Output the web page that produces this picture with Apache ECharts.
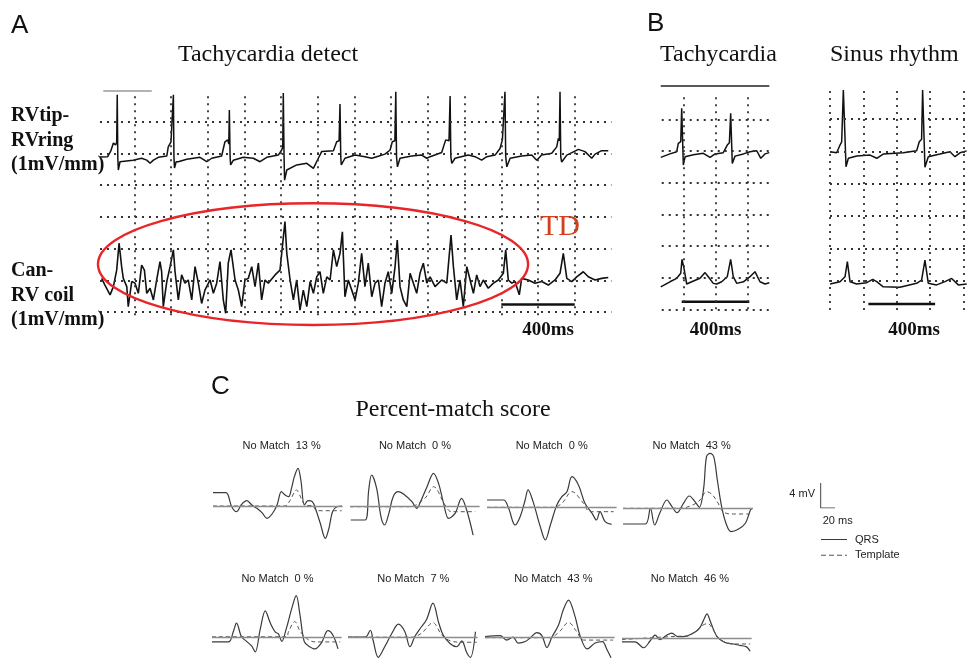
<!DOCTYPE html>
<html><head><meta charset="utf-8">
<script src="https://cdn.jsdelivr.net/npm/echarts@6/dist/echarts.min.js"></script>
<style>html,body{margin:0;padding:0;background:#fff}#c{width:971px;height:671px}</style>
</head><body><div id="c"></div>
<script>
// ---------------- DATA ----------------
// Panel A: grid ticks (ms, mV grid units)
const aGridMs = [200,400,600,800,1000,1200,1400,1600,1800,2000,2200,2400,2600];
const aGridMv = [0,1,2,3,4,5,6];
// Panel A: RVtip-RVring trace [ms, mV]
const rvTipRing = [[13,4.89],[55,4.9],[72,5.08],[86,5.33],[98,5.27],[104,5.35],[107,6.85],[110,4.9],[113,4.48],[122,4.74],[193,4.79],[240,4.85],[268,4.79],[286,4.69],[304,4.79],[331,4.88],[377,4.92],
[385,5.21],[400,5.37],[410,5.35],[413,6.85],[416,4.9],[419,4.54],[428,4.74],[440,4.74],[486,4.82],[558,4.88],[595,4.74],[622,4.85],[676,4.92],
[694,5.37],[709,5.43],[715,5.3],[718,6.37],[722,4.9],[725,4.64],[740,4.79],[794,4.88],[849,4.85],[885,4.74],[922,4.88],[985,4.95],
[1003,5.11],[1009,5.2],[1012,6.91],[1016,4.9],[1019,4.16],[1031,4.48],[1085,4.64],[1140,4.69],[1176,4.53],[1203,4.85],[1221,5.06],[1285,5.09],
[1303,5.37],[1316,5.4],[1321,6.56],[1325,4.9],[1328,4.64],[1348,4.85],[1403,4.95],[1457,4.9],[1494,4.85],[1521,4.9],[1566,4.98],[1594,5.11],
[1606,5.37],[1620,5.4],[1625,6.95],[1629,4.9],[1634,4.58],[1648,4.85],[1712,4.92],[1766,4.95],[1794,4.85],[1812,4.9],[1875,5.03],
[1897,5.43],[1915,5.4],[1921,6.81],[1925,4.9],[1930,4.69],[1948,4.85],[2020,4.95],[2057,4.9],[2093,4.79],[2121,4.9],[2166,4.95],[2193,5.16],
[2206,5.43],[2215,5.4],[2220,6.95],[2224,4.9],[2230,4.58],[2248,4.85],[2311,4.92],[2366,4.95],[2393,4.79],[2420,4.95],[2475,5.01],[2502,5.21],
[2511,5.48],[2516,5.4],[2520,6.95],[2524,4.9],[2529,4.73],[2557,4.95],[2620,5.13],[2656,5.06],[2693,4.85],[2711,4.98],[2747,5.09],[2783,5.09]];
// Panel A: Can-RV coil trace [ms, mV]
const canRvCoil = [[22,1.06],[40,0.85],[68,0.54],[86,0.80],[104,1.32],[117,2.17],[131,1.43],[140,1.06],[159,0.80],[167,0.17],[186,0.96],[204,0.91],[222,0.59],[240,1.48],[255,1.32],[268,0.59],[286,0.75],[304,0.38],[322,1.01],[340,1.59],[349,1.27],[358,0.17],[377,0.96],[395,1.43],[413,1.96],[422,1.27],[440,0.38],[458,1.17],[476,0.91],[494,1.01],[513,0.38],[531,1.43],[549,0.91],[567,0.27],[585,0.69],[613,1.01],[631,0.59],[649,0.91],[667,1.59],[685,0.38],[698,-0.04],[712,1.54],[727,1.96],[749,1.01],[767,0.69],[785,0.17],[803,1.01],[821,1.06],[840,1.43],[858,0.80],[876,1.54],[894,0.38],[912,1.01],[930,0.91],[967,1.17],[994,1.32],[1007,2.06],[1021,2.85],[1031,1.85],[1049,1.01],[1067,0.38],[1085,1.01],[1103,0.06],[1121,0.69],[1140,0.17],[1158,0.96],[1176,0.59],[1194,1.11],[1212,1.27],[1230,0.59],[1249,1.11],[1267,1.01],[1285,1.96],[1303,1.43],[1321,1.85],[1334,2.53],[1348,0.48],[1366,1.01],[1385,0.69],[1403,0.38],[1421,0.91],[1439,1.85],[1457,0.80],[1475,1.54],[1494,0.48],[1512,0.91],[1530,1.01],[1548,0.17],[1566,0.91],[1584,1.27],[1603,0.59],[1621,1.43],[1633,2.27],[1648,0.80],[1666,0.38],[1685,0.17],[1703,1.22],[1721,0.91],[1739,0.59],[1757,1.22],[1775,1.54],[1794,0.91],[1812,1.11],[1839,0.80],[1875,1.01],[1903,0.91],[1926,2.43],[1939,1.43],[1957,0.38],[1975,1.01],[1993,0.17],[2012,1.43],[2030,1.01],[2048,0.59],[2066,1.17],[2084,0.80],[2102,1.01],[2129,0.75],[2157,0.91],[2184,1.01],[2211,1.22],[2224,1.96],[2238,1.01],[2257,0.91],[2275,0.96],[2298,0.54],[2311,1.06],[2347,1.01],[2384,0.91],[2420,0.96],[2456,0.85],[2493,1.01],[2520,1.22],[2538,1.85],[2557,1.06],[2584,0.96],[2611,1.11],[2647,1.27],[2674,1.11],[2711,1.01],[2747,1.06],[2783,1.09]];
const scaleBarA = [[2200,0.24],[2600,0.24]];
const markA = [[31,6.97],[295,6.97]];           // short calibration stroke
const tdEllipse = {ms:1174, mv:1.51, halfMs:1172, halfMv:1.92};

// Panel B: tachycardia
const bTachyGridMs = [200,400,600];
const bTachyGridMv = [0,1,2,3,4,5,6];
const bTachyTop = [[60,4.80],[117,4.91],[159,4.98],[169,5.24],[184,5.30],[190,6.35],[200,4.56],[211,4.82],[262,4.88],[324,4.93],[366,4.80],[397,4.91],[448,4.95],[473,5.19],[486,5.26],[494,6.19],[504,4.61],[521,4.84],[573,4.91],[614,4.98],[656,5.01],[681,4.77],[707,4.91],[734,4.95]];
const bTachyBottom = [[60,0.71],[117,0.87],[159,0.98],[184,1.14],[192,1.58],[204,1.30],[221,0.80],[252,0.87],[304,0.98],[335,1.16],[355,1.03],[386,0.82],[407,0.80],[438,0.87],[473,1.03],[494,1.58],[510,1.03],[532,0.82],[573,0.87],[614,1.03],[645,1.19],[676,0.87],[707,0.80],[734,0.84]];
const bTachyTopLine = [[60,7.07],[734,7.07]];
const scaleBarTachy = [[190,0.24],[610,0.24]];
// Panel B: sinus rhythm
const bSinusGridMs = [0,200,400,600,800];
const bSinusGridMv = [1,2,3,4,5,6];
const bSinusTop = [[0,4.99],[40,4.96],[60,5.20],[70,5.30],[80,6.90],[96,4.53],[110,4.79],[160,4.86],[240,4.89],[280,4.79],[319,4.92],[439,4.96],[519,5.02],[535,5.30],[549,5.38],[555,6.90],[569,4.51],[589,4.84],[659,4.92],[719,4.99],[749,4.84],[779,4.96],[819,5.02]];
const bSinusBottom = [[0,0.90],[60,0.97],[90,1.12],[104,1.59],[120,0.97],[160,0.90],[220,0.94],[256,1.04],[280,0.97],[319,0.81],[419,0.80],[519,0.92],[549,1.02],[569,1.64],[589,0.92],[639,0.87],[689,0.97],[729,1.07],[769,0.87],[819,0.90]];
const scaleBarSinus = [[230,0.28],[630,0.28]];

// Panel C: percent-match scores and QRS / template morphologies [ms, mV]
const noMatchScores = [13,0,0,43,0,7,43,46];
const qrsBeats = [
 [[0,2.13],[18,2.13],[21,1.76],[26,-0.11],[33,-0.91],[39,0.16],[47,0.85],[54,0.16],[61,-0.37],[68,-1.07],[75,-1.97],[82,-1.28],[89,0.16],[95,2.29],[100,1.76],[105,1.49],[109,2.83],[113,4.69],[118,6.03],[122,4.16],[127,0.16],[132,0.85],[138,0.69],[143,-0.64],[149,-2.77],[156,-5.17],[161,-3.57],[166,-0.91],[172,-0.11],[179,0]],
 [[1,-2.13],[21,-2.13],[26,2.67],[30,5.07],[37,2.94],[43,-1.6],[48,-2.93],[54,-1.06],[60,1.6],[67,2.4],[76,1.87],[86,0.8],[93,-0.26],[97,0.54],[107,3.2],[116,5.34],[123,3.74],[130,0.54],[137,-1.86],[146,-1.06],[155,1.34],[162,-0.53],[171,-4.53]],
 [[0,1.17],[23,1.17],[30,-0.16],[39,-2.83],[46,-1.5],[53,1.17],[57,2.8],[64,0.9],[74,-3.1],[81,-5.23],[88,-2.83],[97,0.37],[104,1.7],[111,2.5],[118,4.9],[127,3.57],[136,0.64],[146,-0.96],[152,-2.03],[157,-0.7],[164,-2.3],[173,-2.72]],
 [[0,-2.51],[31,-2.51],[38,0],[44,-2.67],[51,-0.8],[61,1.33],[68,0.26],[75,-0.7],[84,0.8],[92,1.97],[100,1.06],[106,0.16],[112,3.2],[116,8.26],[121,8.8],[126,8.26],[131,4.53],[137,0.26],[143,-2.4],[150,-3.74],[160,-3.36],[170,-2.4],[177,-0.27],[180,0]],
 [[0,-0.9],[23,-0.9],[30,1.07],[34,2.4],[41,0],[48,-0.8],[55,-1.6],[60,-2.66],[67,1.34],[74,4.54],[81,2.4],[88,0.8],[92,0.54],[97,-0.8],[103,1.34],[111,5.07],[117,7.2],[122,4],[128,-0.8],[134,-1.6],[143,-2.13],[152,-1.06],[161,1.07],[168,0.27],[175,-2.13]],
 [[0,0],[24,0],[31,1.23],[35,-0.64],[42,-3.57],[51,-1.7],[61,0.7],[70,2.3],[79,0.96],[86,-1.7],[93,0.16],[100,1.5],[109,3.1],[118,6.03],[126,2.56],[132,0.43],[142,-1.17],[151,-1.7],[158,-0.64],[165,-2.77],[170,-3.57],[177,0.96]],
 [[0,0.21],[21,0.37],[30,-0.43],[39,0.11],[46,-0.96],[56,-0.69],[63,0],[72,0.91],[79,0.37],[86,-1.76],[93,0.11],[102,2.24],[109,5.12],[116,6.77],[125,3.84],[132,0.37],[142,-2.03],[153,-0.96],[163,-0.69],[169,-2.03],[175,-3.63]],
 [[0,-0.69],[18,-0.69],[30,-1.76],[39,-0.53],[46,0.53],[53,-0.27],[62,0.53],[69,0.91],[78,0.27],[90,0.37],[101,1.07],[108,1.87],[114,3.47],[118,4.43],[123,2.93],[132,0.27],[143,-0.8],[155,-1.07],[164,-1.33],[173,-1.6],[178,-2.4]]
];
const templateBeats = [
 [[0,0],[100,0],[107,0.9],[116,2.56],[121,1.6],[128,0.16],[139,0],[144,-0.75],[179,-0.75]],
 [[0,0],[83,0],[104,1.34],[116,3.2],[132,0.27],[141,-0.8],[174,-0.8]],
 [[0,0],[92,0],[104,0.64],[118,2.5],[134,0.64],[143,-0.7],[176,-0.7]],
 [[0,0],[79,0],[97,0.53],[107,1.33],[116,2.66],[123,2.29],[131,1.06],[139,-0.54],[151,-0.91],[177,-0.91]],
 [[0,0],[104,0],[106,0.8],[115,2.67],[122,1.07],[131,-0.26],[143,-0.9],[178,-0.9]],
 [[0,0],[89,0],[102,0.7],[118,2.56],[130,0.43],[142,-0.64],[160,-0.9],[179,-0.9]],
 [[0,0],[90,0],[104,1.17],[116,2.77],[127,1.17],[137,-0.43],[178,-0.43]],
 [[0,-0.27],[74,0.32],[90,0.37],[101,1.07],[111,2.24],[119,2.67],[127,1.44],[136,-0.27],[155,-1.07],[178,-1.07]]
];
const scaleBarC = [[20,0],[0,0],[0,4]];   // 20 ms x 4 mV
const legendNames = ['QRS','Template'];

// ---------------- LAYOUT / STYLE ----------------
const SERIF = '"Liberation Serif","Times New Roman",serif';
const SANS = '"Liberation Sans",Arial,sans-serif';
const DOT = {color:'#333', width:1.8, type:[2,5]};
const INK = '#111';
const QRS_COLOR = '#3a3a3a', TPL_COLOR = '#555';

function dottedGrid(xs, ys, xFrom, xTo, yFrom, yTo, extra) {
  const d = [];
  xs.forEach(x => d.push([{coord:[x,yFrom]},{coord:[x,yTo]}]));
  ys.forEach(y => d.push([{coord:[xFrom,y]},{coord:[xTo,y]}]));
  (extra||[]).forEach(e => d.push(e));
  return {silent:true, symbol:['none','none'], label:{show:false}, emphasis:{disabled:true},
          animation:false, lineStyle:DOT, data:d};
}
function seg(pts, style){ return [{coord:pts[0], lineStyle:style},{coord:pts[1]}]; }

const grids = [], xAxes = [], yAxes = [], series = [];
function addGrid(g, xr, yr){
  grids.push(g);
  const i = grids.length-1;
  xAxes.push({gridIndex:i, type:'value', min:xr[0], max:xr[1], show:false});
  yAxes.push({gridIndex:i, type:'value', min:yr[0], max:yr[1], show:false});
  return i;
}
function trace(i, data, style, extra){
  return Object.assign({type:'line', xAxisIndex:i, yAxisIndex:i, data:data, symbol:'none',
    silent:true, animation:false, lineStyle:style, itemStyle:{color:style.color}}, extra||{});
}

// Panel A
const gA = addGrid({left:97.6, top:90.1, width:513.8, height:225.07}, [0,2800], [-0.1,7]);
series.push(trace(gA, rvTipRing, {color:INK, width:1.5},
  {markLine: dottedGrid(aGridMs, aGridMv, 13, 2800, -0.1, 6.95,
     [seg(markA, {color:'#9a9a9a', width:1.5, type:'solid'})])}));
series.push(trace(gA, canRvCoil, {color:INK, width:1.6}));
series.push(trace(gA, scaleBarA, {color:INK, width:2.5}));

// Panel B tachy
const gT = addGrid({left:651.1, top:84.585, width:120, height:227.9}, [0,745], [-0.1,7.1]);
series.push(trace(gT, bTachyTop, {color:INK, width:1.5},
  {markLine: dottedGrid(bTachyGridMs, bTachyGridMv, 66, 734, 0, 6.85,
     [seg(bTachyTopLine, {color:'#222', width:1.6, type:'solid'})])}));
series.push(trace(gT, bTachyBottom, {color:INK, width:1.5}));
series.push(trace(gT, scaleBarTachy, {color:INK, width:2.5}));

// Panel B sinus
const gS = addGrid({left:830, top:86.9, width:141.07, height:226.1}, [0,845], [0,7]);
series.push(trace(gS, bSinusTop, {color:INK, width:1.5},
  {markLine: dottedGrid(bSinusGridMs, bSinusGridMv, 0, 830, 0.09, 6.9)}));
series.push(trace(gS, bSinusBottom, {color:INK, width:1.5}));
series.push(trace(gS, scaleBarSinus, {color:INK, width:2.5}));

// Panel C
const cLeft = [213,350,487,623,212,348,485,622];
const cBase = [506,506.7,507.3,508.3,641.7,642.7,644,645];
const cLabelX = [281.7,415,551.7,691.7,277.5,413.3,553.3,690];
for (let k=0;k<8;k++){
  const g = addGrid({left:cLeft[k], top:cBase[k]-56.25, width:129.6, height:93.75}, [0,180], [-6,9]);
  series.push(trace(g, qrsBeats[k], {color:QRS_COLOR, width:1.2}, {name:legendNames[0], smooth:0.35,
    markLine:{silent:true, symbol:['none','none'], label:{show:false}, animation:false,
      lineStyle:{color:'#8c8c8c', width:1.4, type:'solid'}, data:[{yAxis:0}]}}));
  series.push(trace(g, templateBeats[k], {color:TPL_COLOR, width:1, type:[4,3]}, {name:legendNames[1], smooth:0.35}));
}
const gC = addGrid({left:820.7, top:483, width:14.3, height:25}, [0,20], [0,4]);
series.push(trace(gC, scaleBarC, {color:'#444', width:1}));

// Texts
function txt(t, x, y, font, opts){
  return Object.assign({type:'text', x:x, y:y, silent:true, z:50,
    style:Object.assign({text:t, font:font, fill:INK, align:'left', verticalAlign:'middle'}, opts||{})});
}
const graphics = [
  txt('A', 11, 25.4, '26px '+SANS),
  txt('B', 647, 23.4, '26px '+SANS),
  txt('C', 211, 386.4, '26px '+SANS),
  txt('Tachycardia detect', 268, 55, '24px '+SERIF, {align:'center'}),
  txt('Tachycardia', 660, 55, '24px '+SERIF),
  txt('Sinus rhythm', 830, 55, '24px '+SERIF),
  txt('RVtip-', 11, 116.3, 'bold 20px '+SERIF),
  txt('RVring', 11, 141.3, 'bold 20px '+SERIF),
  txt('(1mV/mm)', 11, 165.3, 'bold 20px '+SERIF),
  txt('Can-', 11, 271.3, 'bold 20px '+SERIF),
  txt('RV coil', 11, 296.3, 'bold 20px '+SERIF),
  txt('(1mV/mm)', 11, 320.3, 'bold 20px '+SERIF),
  txt('400ms', 548, 329.7, 'bold 19px '+SERIF, {align:'center'}),
  txt('400ms', 715.5, 329.7, 'bold 19px '+SERIF, {align:'center'}),
  txt('400ms', 914, 329.7, 'bold 19px '+SERIF, {align:'center'}),
  txt('TD', 540, 226.8, '30px '+SERIF, {fill:'#d2401e'}),
  txt('Percent-match score', 453, 410, '24px '+SERIF, {align:'center'}),
  txt('4 mV', 815, 494.3, '11px '+SANS, {align:'right', fill:'#222'}),
  txt('20 ms', 822.7, 521.3, '11px '+SANS, {fill:'#222'})
];
noMatchScores.forEach((s,k)=>{
  graphics.push(txt('No Match  '+s+' %', cLabelX[k], k<4?446:579.3, '11px '+SANS, {align:'center', fill:'#222'}));
});

const chart = echarts.init(document.getElementById('c'), null, {renderer:'canvas'});
chart.setOption({
  animation:false,
  backgroundColor:'#fff',
  grid:grids, xAxis:xAxes, yAxis:yAxes, series:series,
  legend:{show:true, orient:'vertical', left:816, top:529, itemWidth:26, itemHeight:1.2, itemGap:4.7,
    selectedMode:false,
    data:[
      {name:legendNames[0], icon:'path://M0 0H26V1H0Z', itemStyle:{color:QRS_COLOR, borderWidth:0}},
      {name:legendNames[1], icon:'path://M0 0H5V1H0ZM8 0H13V1H8ZM16 0H21V1H16ZM24 0H26V1H24Z', itemStyle:{color:TPL_COLOR, borderWidth:0}}
    ],
    textStyle:{fontFamily:SANS, fontSize:11, color:'#222', padding:[0,0,0,3]}},
  graphic:graphics
});

// TD ellipse defined in data units of panel A
const c0 = chart.convertToPixel({gridIndex:gA}, [tdEllipse.ms, tdEllipse.mv]);
const c1 = chart.convertToPixel({gridIndex:gA}, [tdEllipse.ms + tdEllipse.halfMs, tdEllipse.mv + tdEllipse.halfMv]);
graphics.push({type:'ellipse', silent:true, z:60,
  shape:{cx:c0[0], cy:c0[1], rx:Math.abs(c1[0]-c0[0]), ry:Math.abs(c1[1]-c0[1])},
  style:{fill:null, stroke:'#e8262a', lineWidth:2.4}});
chart.setOption({graphic:graphics});
</script>
</body></html>
